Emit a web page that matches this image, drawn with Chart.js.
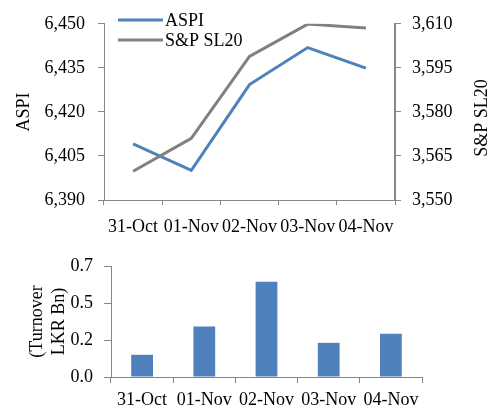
<!DOCTYPE html>
<html>
<head>
<meta charset="utf-8">
<script src="https://cdn.jsdelivr.net/npm/chart.js@4.4.0/dist/chart.umd.min.js"></script>
<style>
  html, body { margin:0; padding:0; background:#fff; }
  body { width:491px; height:409px; position:relative; overflow:hidden; }
  #w1 { position:absolute; left:0; top:0; width:491px; height:240px; }
  #w2 { position:absolute; left:0; top:240px; width:491px; height:169px; }
</style>
</head>
<body>
<div id="w1"><canvas id="c1"></canvas></div>
<div id="w2"><canvas id="c2"></canvas></div>
<script>
// ---- data ----
const dates = ['31-Oct', '01-Nov', '02-Nov', '03-Nov', '04-Nov'];
const aspiValues = [6409.1, 6400.1, 6429.3, 6441.9, 6434.9];
const spValues = [3559.8, 3571.0, 3598.9, 3609.9, 3608.6];
const turnoverValues = [0.150, 0.341, 0.644, 0.231, 0.292];
const aspiTicks = [6390, 6405, 6420, 6435, 6450];
const spTicks = [3550, 3565, 3580, 3595, 3610];
const turnoverTickValues = [0, 0.25, 0.5, 0.75];
const turnoverTickLabels = ['0.0', '0.2', '0.5', '0.7'];
const rightTitle = 'S&P SL20';

const FONT = 'Liberation Serif';
const AXIS = '#868686';
const BLUE = '#4F81BD';
const GRAY = '#808080';
Chart.defaults.font.family = FONT;
Chart.defaults.font.size = 18;
Chart.defaults.color = '#000';

function fmt(v) { return Number(v).toLocaleString('en-US'); }

const legendPlugin = {
  id: 'customLegend',
  afterDraw(chart) {
    const ctx = chart.ctx;
    const items = chart.data.datasets.map(d => ({ label: d.label, color: d.borderColor }));
    const ys = [20, 40];
    ctx.save();
    items.forEach((it, i) => {
      ctx.strokeStyle = it.color;
      ctx.lineWidth = 3;
      ctx.beginPath();
      ctx.moveTo(118, ys[i]);
      ctx.lineTo(163, ys[i]);
      ctx.stroke();
      ctx.fillStyle = '#000';
      ctx.font = '18px "' + FONT + '"';
      ctx.textBaseline = 'middle';
      ctx.textAlign = 'left';
      ctx.fillText(it.label, 165, ys[i] + 1);
    });
    // right axis title, reading bottom-to-top
    const yR = chart.scales.yR;
    ctx.translate(482, (yR.top + yR.bottom) / 2 + 6);
    ctx.rotate(-Math.PI / 2);
    ctx.textAlign = 'center';
    ctx.textBaseline = 'middle';
    ctx.fillText(rightTitle, 0, 0);
    ctx.restore();
  }
};

new Chart(document.getElementById('c1'), {
  type: 'line',
  data: {
    labels: dates,
    datasets: [
      { label: 'ASPI', data: aspiValues, yAxisID: 'yL', borderColor: BLUE, borderWidth: 3, pointRadius: 0, tension: 0, order: 1 },
      { label: 'S&P SL20', data: spValues, yAxisID: 'yR', borderColor: GRAY, borderWidth: 3, pointRadius: 0, tension: 0, order: 0 }
    ]
  },
  options: {
    responsive: true, maintainAspectRatio: false, animation: false,
    layout: { padding: { top: 22, left: 0, right: 0, bottom: 0 } },
    plugins: { legend: { display: false }, tooltip: { enabled: false } },
    scales: {
      x: {
        type: 'category', offset: true,
        grid: { display: true, drawOnChartArea: false, drawTicks: true, tickLength: 5, offset: true, color: AXIS },
        border: { display: true, color: AXIS, width: 1 },
        ticks: { autoSkip: false, maxRotation: 0, minRotation: 0, padding: 11, font: { size: 18 } },
        afterFit(s) { s.height = 40; }
      },
      yL: {
        type: 'linear', position: 'left', min: 6390, max: 6450,
        afterBuildTicks(s) { s.ticks = aspiTicks.map(v => ({ value: v })); },
        grid: { display: true, drawOnChartArea: false, drawTicks: true, tickLength: 6, color: AXIS },
        border: { display: true, color: AXIS, width: 1 },
        ticks: { padding: 13, callback: v => fmt(v) },
        title: { display: true, text: 'ASPI', font: { size: 18, lineHeight: 1 }, padding: { top: 15, bottom: 0 } },
        afterFit(s) { s.width = 104; }
      },
      yR: {
        type: 'linear', position: 'right', min: 3550, max: 3610,
        afterBuildTicks(s) { s.ticks = spTicks.map(v => ({ value: v })); },
        grid: { display: true, drawOnChartArea: false, drawTicks: true, tickLength: 6, color: AXIS },
        border: { display: true, color: AXIS, width: 2 },
        ticks: { padding: 11, callback: v => fmt(v) },
        afterFit(s) { s.width = 96; }
      }
    }
  },
  plugins: [legendPlugin]
});

new Chart(document.getElementById('c2'), {
  type: 'bar',
  data: {
    labels: dates,
    datasets: [
      { label: 'Turnover', data: turnoverValues, backgroundColor: BLUE, borderWidth: 0, categoryPercentage: 1, barPercentage: 0.35 }
    ]
  },
  options: {
    responsive: true, maintainAspectRatio: false, animation: false,
    layout: { padding: { top: 26, left: 0, right: 69, bottom: 0 } },
    plugins: { legend: { display: false }, tooltip: { enabled: false } },
    scales: {
      x: {
        type: 'category', offset: true,
        grid: { display: true, drawOnChartArea: false, drawTicks: true, tickLength: 6, offset: true, color: AXIS },
        border: { display: true, color: AXIS, width: 1 },
        ticks: { autoSkip: false, maxRotation: 0, minRotation: 0, padding: 6, font: { size: 18 } },
        afterFit(s) { s.height = 32; }
      },
      y: {
        type: 'linear', position: 'left', min: 0, max: 0.75,
        afterBuildTicks(s) { s.ticks = turnoverTickValues.map(v => ({ value: v })); },
        grid: { display: true, drawOnChartArea: false, drawTicks: true, tickLength: 7, color: AXIS },
        border: { display: true, color: AXIS, width: 1 },
        ticks: { padding: 11, callback: (v, i) => turnoverTickLabels[i] },
        title: { display: true, text: ['(Turnover', 'LKR Bn)'], font: { size: 18, lineHeight: 1.25 }, padding: { top: 26, bottom: 0 } },
        afterFit(s) { s.width = 111; }
      }
    }
  }
});
</script>
</body>
</html>
